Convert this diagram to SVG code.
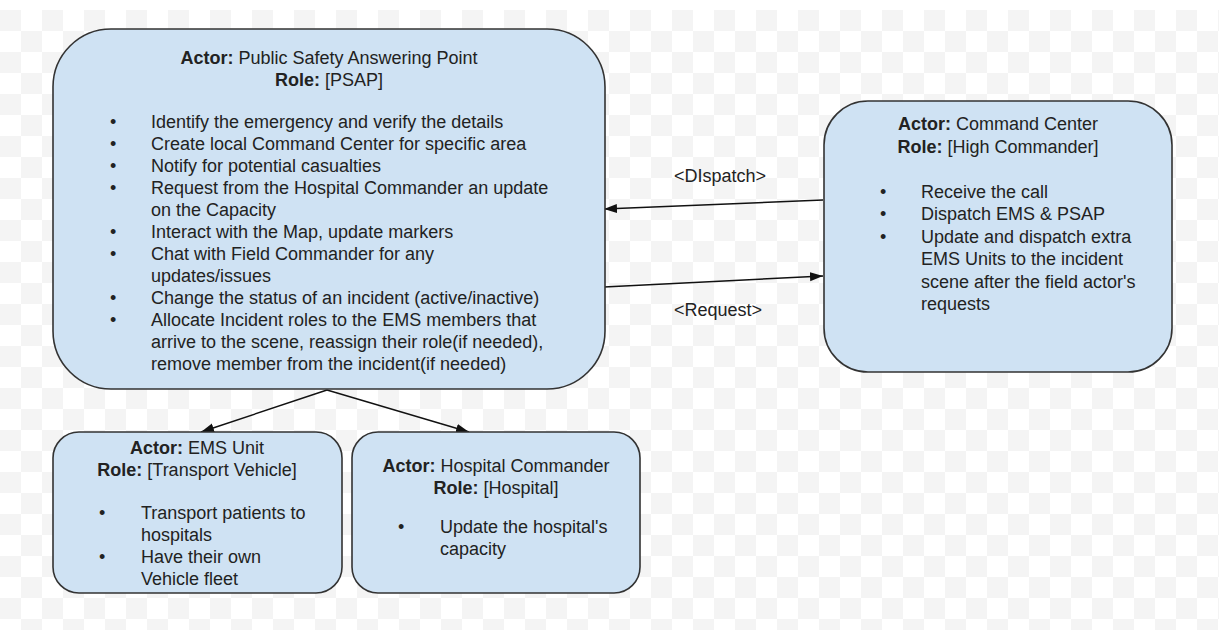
<svg xmlns="http://www.w3.org/2000/svg" width="1219" height="641" viewBox="0 0 1219 641">
<defs>
<pattern id="checker" x="0" y="10" width="42" height="42" patternUnits="userSpaceOnUse">
<rect width="42" height="42" fill="#ffffff"/>
<rect width="21" height="21" fill="#f4f4f4"/>
<rect x="21" y="21" width="21" height="21" fill="#f4f4f4"/>
</pattern>
<marker id="arrow" markerWidth="14" markerHeight="12" refX="13" refY="6" orient="auto" markerUnits="userSpaceOnUse">
<path d="M0,1.5 L13,6 L0,10.5 Z" fill="#111"/>
</marker>
</defs>
<style>
.box{fill:#cfe2f3;stroke:#333;stroke-width:1.6}
.t{font-family:"Liberation Sans",Arial,sans-serif;font-size:18px;fill:#222}
.c{text-anchor:middle}
.b{font-weight:bold}
.conn{stroke:#111;stroke-width:1.4;fill:none;marker-end:url(#arrow)}
</style>
<rect x="0" y="0" width="1219" height="641" fill="url(#checker)"/>
<rect x="0" y="0" width="1219" height="10" fill="#ffffff"/>
<rect x="0" y="630" width="1219" height="11" fill="#ffffff"/>

<g id="connectors">
<line class="conn" x1="823" y1="200" x2="604" y2="209"/>
<line class="conn" x1="604" y1="287" x2="823" y2="276"/>
<line class="conn" x1="327" y1="390" x2="201" y2="432"/>
<line class="conn" x1="327" y1="390" x2="469" y2="432"/>
<text class="t c" x="720" y="182">&lt;DIspatch&gt;</text>
<text class="t c" x="718" y="316">&lt;Request&gt;</text>
</g>

<g id="psap">
<rect class="box" x="53" y="29" width="552" height="360" rx="58" ry="58"/>
<text class="t c" x="329" y="64"><tspan class="b">Actor:</tspan> Public Safety Answering Point</text>
<text class="t c" x="329" y="86"><tspan class="b">Role:</tspan> [PSAP]</text>
<text class="t" x="110" y="128">•</text>
<text class="t" x="151" y="128">Identify the emergency and verify the details</text>
<text class="t" x="110" y="150">•</text>
<text class="t" x="151" y="150">Create local Command Center for specific area</text>
<text class="t" x="110" y="172">•</text>
<text class="t" x="151" y="172">Notify for potential casualties</text>
<text class="t" x="110" y="194">•</text>
<text class="t" x="151" y="194">Request from the Hospital Commander an update</text>
<text class="t" x="151" y="216">on the Capacity</text>
<text class="t" x="110" y="238">•</text>
<text class="t" x="151" y="238">Interact with the Map, update markers</text>
<text class="t" x="110" y="260">•</text>
<text class="t" x="151" y="260">Chat with Field Commander for any</text>
<text class="t" x="151" y="282">updates/issues</text>
<text class="t" x="110" y="304">•</text>
<text class="t" x="151" y="304">Change the status of an incident (active/inactive)</text>
<text class="t" x="110" y="326">•</text>
<text class="t" x="151" y="326">Allocate Incident roles to the EMS members that</text>
<text class="t" x="151" y="348">arrive to the scene, reassign their role(if needed),</text>
<text class="t" x="151" y="370">remove member from the incident(if needed)</text>
</g>

<g id="command-center">
<rect class="box" x="824" y="101" width="348" height="271" rx="44" ry="44"/>
<text class="t c" x="998" y="130"><tspan class="b">Actor:</tspan> Command Center</text>
<text class="t c" x="998" y="153"><tspan class="b">Role:</tspan> [High Commander]</text>
<text class="t" x="880" y="198">•</text>
<text class="t" x="921" y="198">Receive the call</text>
<text class="t" x="880" y="220">•</text>
<text class="t" x="921" y="220">Dispatch EMS &amp; PSAP</text>
<text class="t" x="880" y="243">•</text>
<text class="t" x="921" y="243">Update and dispatch extra</text>
<text class="t" x="921" y="265">EMS Units to the incident</text>
<text class="t" x="921" y="288">scene after the field actor's</text>
<text class="t" x="921" y="310">requests</text>
</g>

<g id="ems-unit">
<rect class="box" x="53" y="432" width="289" height="161" rx="26" ry="26"/>
<text class="t c" x="197" y="454"><tspan class="b">Actor:</tspan> EMS Unit</text>
<text class="t c" x="197" y="476"><tspan class="b">Role:</tspan> [Transport Vehicle]</text>
<text class="t" x="99" y="519">•</text>
<text class="t" x="141" y="519">Transport patients to</text>
<text class="t" x="141" y="541">hospitals</text>
<text class="t" x="99" y="563">•</text>
<text class="t" x="141" y="563">Have their own</text>
<text class="t" x="141" y="585">Vehicle fleet</text>
</g>

<g id="hospital-commander">
<rect class="box" x="352" y="432" width="288" height="161" rx="26" ry="26"/>
<text class="t c" x="496" y="472"><tspan class="b">Actor:</tspan> Hospital Commander</text>
<text class="t c" x="496" y="494"><tspan class="b">Role:</tspan> [Hospital]</text>
<text class="t" x="398" y="533">•</text>
<text class="t" x="440" y="533">Update the hospital's</text>
<text class="t" x="440" y="555">capacity</text>
</g>
</svg>
